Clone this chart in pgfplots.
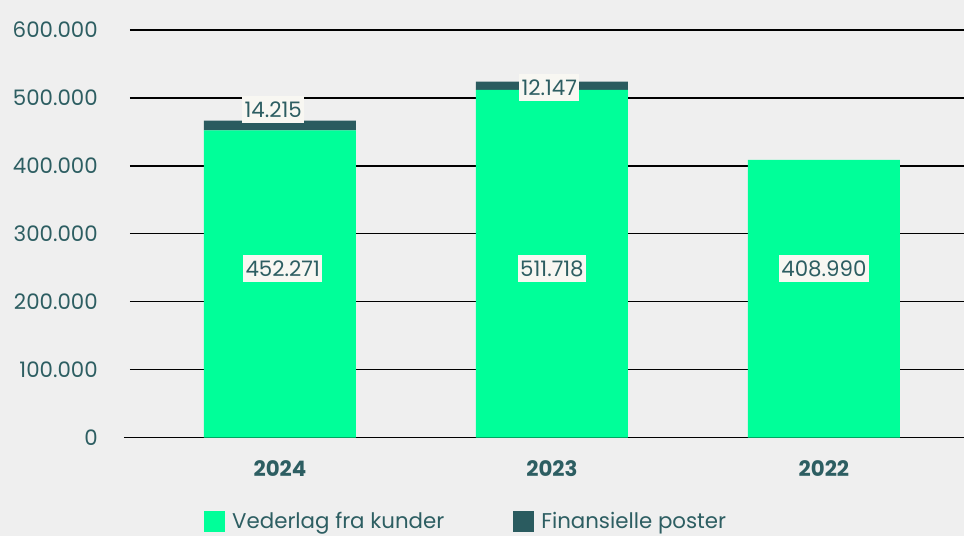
\documentclass[border=0pt]{standalone}
\usepackage{pgfplots}
\pgfplotsset{compat=1.18}
\usepackage{fontspec}
\setmainfont{Poppins}
\definecolor{bg}{HTML}{EFEFEF}
\definecolor{vgreen}{HTML}{00FF99}
\definecolor{fdark}{HTML}{2A5B5F}
\definecolor{txt}{HTML}{2D5E62}
\definecolor{boxc}{HTML}{F8F7F2}
\newcommand{\fnt}{\fontsize{16}{19}\selectfont}
\tikzset{lbl/.style={fill=boxc, text=txt, font=\fnt, inner xsep=1.8pt, inner ysep=4.4pt, text height=11.6pt, text depth=0pt}}
\begin{document}
\begin{tikzpicture}[x=1pt,y=1pt]
\fill[bg] (-97.5,-73.725) rectangle (625.5,328.275);
\useasboundingbox (-97.5,-73.725) rectangle (625.5,328.275);
\begin{axis}[
  at={(0,0)}, anchor=south west,
  scale only axis, width=625.5pt, height=305.775pt,
  xmin=-0.5515, xmax=2.515, ymin=0, ymax=600000,
  ybar stacked, bar width=114pt,
  xtick={0,1,2}, xticklabels={2024,2023,2022},
  ytick={0,100000,200000,300000,400000,500000,600000},
  yticklabels={0,100.000,200.000,300.000,400.000,500.000,600.000},
  scaled y ticks=false,
  axis line style={draw=none}, major tick length=0pt,
  ymajorgrids, grid style={black, line width=0.9pt},
  tick label style={font=\fnt, text=txt, inner sep=0pt},
  yticklabel style={anchor=east, xshift=-24pt},
  xticklabel style={anchor=center, yshift=-23.1pt, font=\fnt\bfseries},
  legend columns=2,
  legend cell align=left,
  legend style={draw=none, fill=none, at={(0.0839,-0.2053)}, anchor=west,
    font=\fnt, text=txt, nodes={inner sep=0pt},
    /tikz/every odd column/.append style={column sep=5.25pt},
    /tikz/every even column/.append style={column sep=51.75pt}},
  legend image code/.code={\fill[#1,draw=none] (0pt,-7.875pt) rectangle (15.75pt,7.875pt);},
  clip=false,
]
\addplot[fill=vgreen, draw=none] coordinates {(0,452271) (1,511718) (2,408990)};
\addplot[fill=fdark, draw=none] coordinates {(0,14215) (1,12147) (2,0)};
\legend{Vederlag fra kunder, Finansielle poster}
\draw[black, line width=0.9pt] ([xshift=-4.5pt]rel axis cs:0,0) -- (rel axis cs:1,0);
\coordinate (t1) at (axis cs:-0.025,483000);
\coordinate (t2) at (axis cs:0.99,515500);
\coordinate (m1) at (axis cs:0.01,248600);
\coordinate (m2) at (axis cs:1,248600);
\coordinate (m3) at (axis cs:2,248600);
\end{axis}
\node[lbl] at (t1) {14.215};
\node[lbl] at (t2) {12.147};
\node[lbl] at (m1) {452.271};
\node[lbl] at (m2) {511.718};
\node[lbl] at (m3) {408.990};
\end{tikzpicture}
\end{document}
